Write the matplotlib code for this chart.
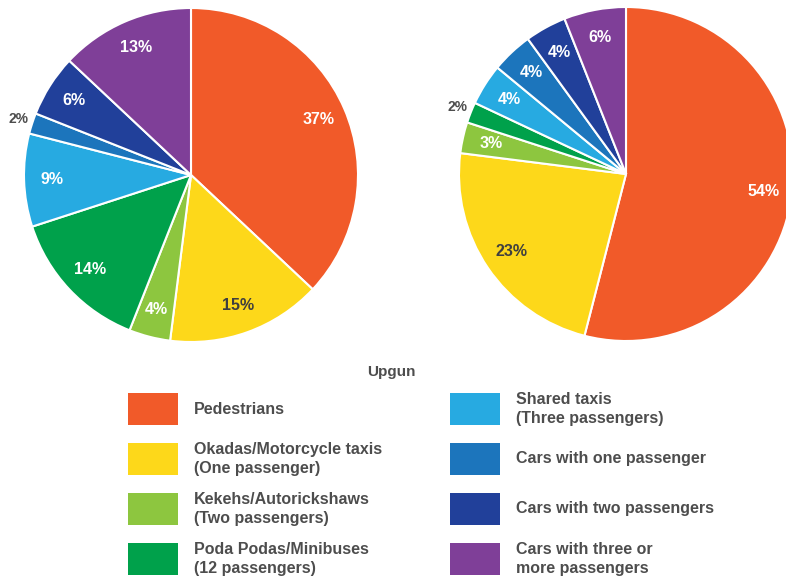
import matplotlib.pyplot as plt
from matplotlib.patches import Rectangle

plt.rcParams['font.family'] = ['Liberation Sans', 'DejaVu Sans']

# Modes of transport, shares in percent
categories = [
    "Pedestrians",
    "Okadas/Motorcycle taxis\n(One passenger)",
    "Kekehs/Autorickshaws\n(Two passengers)",
    "Poda Podas/Minibuses\n(12 passengers)",
    "Shared taxis\n(Three passengers)",
    "Cars with one passenger",
    "Cars with two passengers",
    "Cars with three or\nmore passengers",
]
colors = ["#F15A29", "#FDD81A", "#8DC63F", "#00A14B",
          "#27AAE1", "#1C75BC", "#21409A", "#7F3F98"]
share_left = [37, 15, 4, 14, 9, 2, 6, 13]
share_right = [54, 23, 3, 2, 4, 4, 4, 6]
legend_title = "Upgun"

W, H = 786, 578
fig = plt.figure(figsize=(W / 100, H / 100), dpi=100)

DARK = "#3f3f3f"
GRAY = "#4d4d4d"


def draw_pie(cx, cy, r, values):
    ax = fig.add_axes([(cx - r) / W, 1 - (cy + r) / H, 2 * r / W, 2 * r / H])
    wedges, texts = ax.pie(values, colors=colors, startangle=90, counterclock=False,
                           labels=[f"{v}%" for v in values], labeldistance=0.83,
                           wedgeprops=dict(edgecolor="white", linewidth=1.5),
                           textprops=dict(fontsize=11.5, fontweight="bold", color="white"))
    for t, v, c in zip(texts, values, colors):
        t.set_ha("center")
        t.set_va("center")
        if c == "#FDD81A":
            t.set_color(DARK)
        if v <= 2:
            x, y = t.get_position()
            t.set_position((x * 1.31, y * 1.31))
            t.set_color(GRAY)
            t.set_fontsize(10)
    ax.set_xlim(-1, 1)
    ax.set_ylim(-1, 1)
    ax.set_aspect("equal")
    ax.axis("off")
    return ax


draw_pie(191, 175, 167, share_left)
draw_pie(626, 174, 167, share_right)

# Legend built by hand in two columns
fig.text(391 / W, 1 - 372 / H, legend_title, ha="center", va="center",
         fontsize=11, fontweight="bold", color=GRAY)
col_x = [128, 450]
row_y = [409, 459, 509, 559]
for i, (lab, c) in enumerate(zip(categories, colors)):
    px = col_x[i // 4]
    py = row_y[i % 4]
    fig.patches.append(Rectangle((px / W, 1 - (py + 16) / H), 50 / W, 32 / H,
                                 transform=fig.transFigure, facecolor=c,
                                 edgecolor="none"))
    fig.text((px + 66) / W, 1 - py / H, lab, ha="left", va="center",
             fontsize=11.5, fontweight="bold", color=GRAY, linespacing=1.32)

fig.savefig("out.png", dpi=100, facecolor="white")
